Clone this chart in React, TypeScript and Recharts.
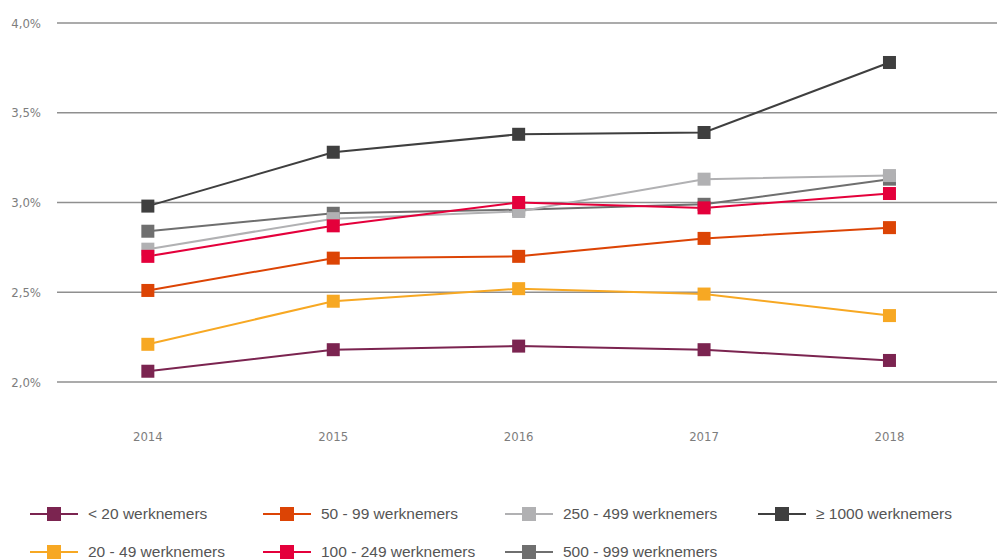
import React from 'react';
import { LineChart, Line, XAxis, YAxis, CartesianGrid } from 'recharts';

const years = [2014, 2015, 2016, 2017, 2018];
const yTicks = [2.0, 2.5, 3.0, 3.5, 4.0];

const seriesNames = [
  '< 20 werknemers',
  '20 - 49 werknemers',
  '50 - 99 werknemers',
  '100 - 249 werknemers',
  '250 - 499 werknemers',
  '500 - 999 werknemers',
  '\u2265 1000 werknemers',
];
const seriesColors = ['#7b2450', '#f7a823', '#dc4405', '#e4003b', '#b1b1b3', '#6f6f6f', '#3f3f3f'];

const lt20 = [2.06, 2.18, 2.2, 2.18, 2.12];
const s20to49 = [2.21, 2.45, 2.52, 2.49, 2.37];
const s50to99 = [2.51, 2.69, 2.7, 2.8, 2.86];
const s100to249 = [2.7, 2.87, 3.0, 2.97, 3.05];
const s250to499 = [2.74, 2.91, 2.95, 3.13, 3.15];
const s500to999 = [2.84, 2.94, 2.96, 2.99, 3.13];
const gte1000 = [2.98, 3.28, 3.38, 3.39, 3.78];

const seriesValues = [lt20, s20to49, s50to99, s100to249, s250to499, s500to999, gte1000];

const data = years.map((year, i) => {
  const row: Record<string, number> = { year };
  seriesValues.forEach((vals, s) => {
    row['s' + s] = vals[i];
  });
  return row;
});

const tickFont = "'DejaVu Sans Condensed', 'Liberation Sans Narrow', sans-serif";

const squareDot = (color: string) => (props: any) => {
  const { cx, cy, index } = props;
  if (cx == null || cy == null) return <g key={index} />;
  return <rect key={index} x={cx - 6.5} y={cy - 6.5} width={13} height={13} fill={color} />;
};

// legend layout: column-major, two rows
const legendCols = [30, 263, 505, 758];
const legendRows = [514, 552];

const LegendIcon = ({ color }: { color: string }) => (
  <svg width={48} height={16} style={{ display: 'block' }}>
    <line x1={0} y1={8} x2={48} y2={8} stroke={color} strokeWidth={2} />
    <rect x={17} y={1} width={14} height={14} fill={color} />
  </svg>
);

export default function App() {
  const order = [6, 5, 4, 3, 2, 1, 0];
  return (
    <div style={{ position: 'absolute', left: 0, top: 0, width: 997, height: 560, background: '#fff' }}>
      <LineChart width={997} height={560} data={data} margin={{ top: 23, right: 0, bottom: 148, left: 0 }}>
        <CartesianGrid vertical={false} stroke="#8f8f8f" strokeWidth={1.5} />
        <XAxis
          dataKey="year"
          type="number"
          domain={[2013.51, 2018.58]}
          ticks={years}
          axisLine={false}
          tickLine={false}
          height={30}
          tickMargin={44}
          tick={{ fill: '#7d7d7d', fontSize: 13, fontFamily: tickFont }}
        />
        <YAxis
          width={57}
          domain={[2, 4]}
          ticks={yTicks}
          axisLine={false}
          tickLine={false}
          tickMargin={10}
          tickFormatter={(v: number) => v.toFixed(1).replace('.', ',') + '%'}
          tick={{ fill: '#7d7d7d', fontSize: 13, fontFamily: tickFont }}
        />
        {order.map((s) => (
          <Line
            key={s}
            dataKey={'s' + s}
            name={seriesNames[s]}
            stroke={seriesColors[s]}
            strokeWidth={2}
            dot={squareDot(seriesColors[s])}
            activeDot={false}
            isAnimationActive={false}
          />
        ))}
      </LineChart>
      {seriesNames.map((name, s) => {
        const col = Math.floor(s / 2);
        const row = s % 2;
        return (
          <div
            key={name}
            style={{
              position: 'absolute',
              left: legendCols[col],
              top: legendRows[row] - 10,
              height: 20,
              display: 'flex',
              alignItems: 'center',
              fontFamily: "'Liberation Sans', Arial, sans-serif",
              fontSize: 15.5,
              color: '#555',
              whiteSpace: 'nowrap',
            }}
          >
            <LegendIcon color={seriesColors[s]} />
            <span style={{ marginLeft: 10 }}>{name}</span>
          </div>
        );
      })}
    </div>
  );
}
